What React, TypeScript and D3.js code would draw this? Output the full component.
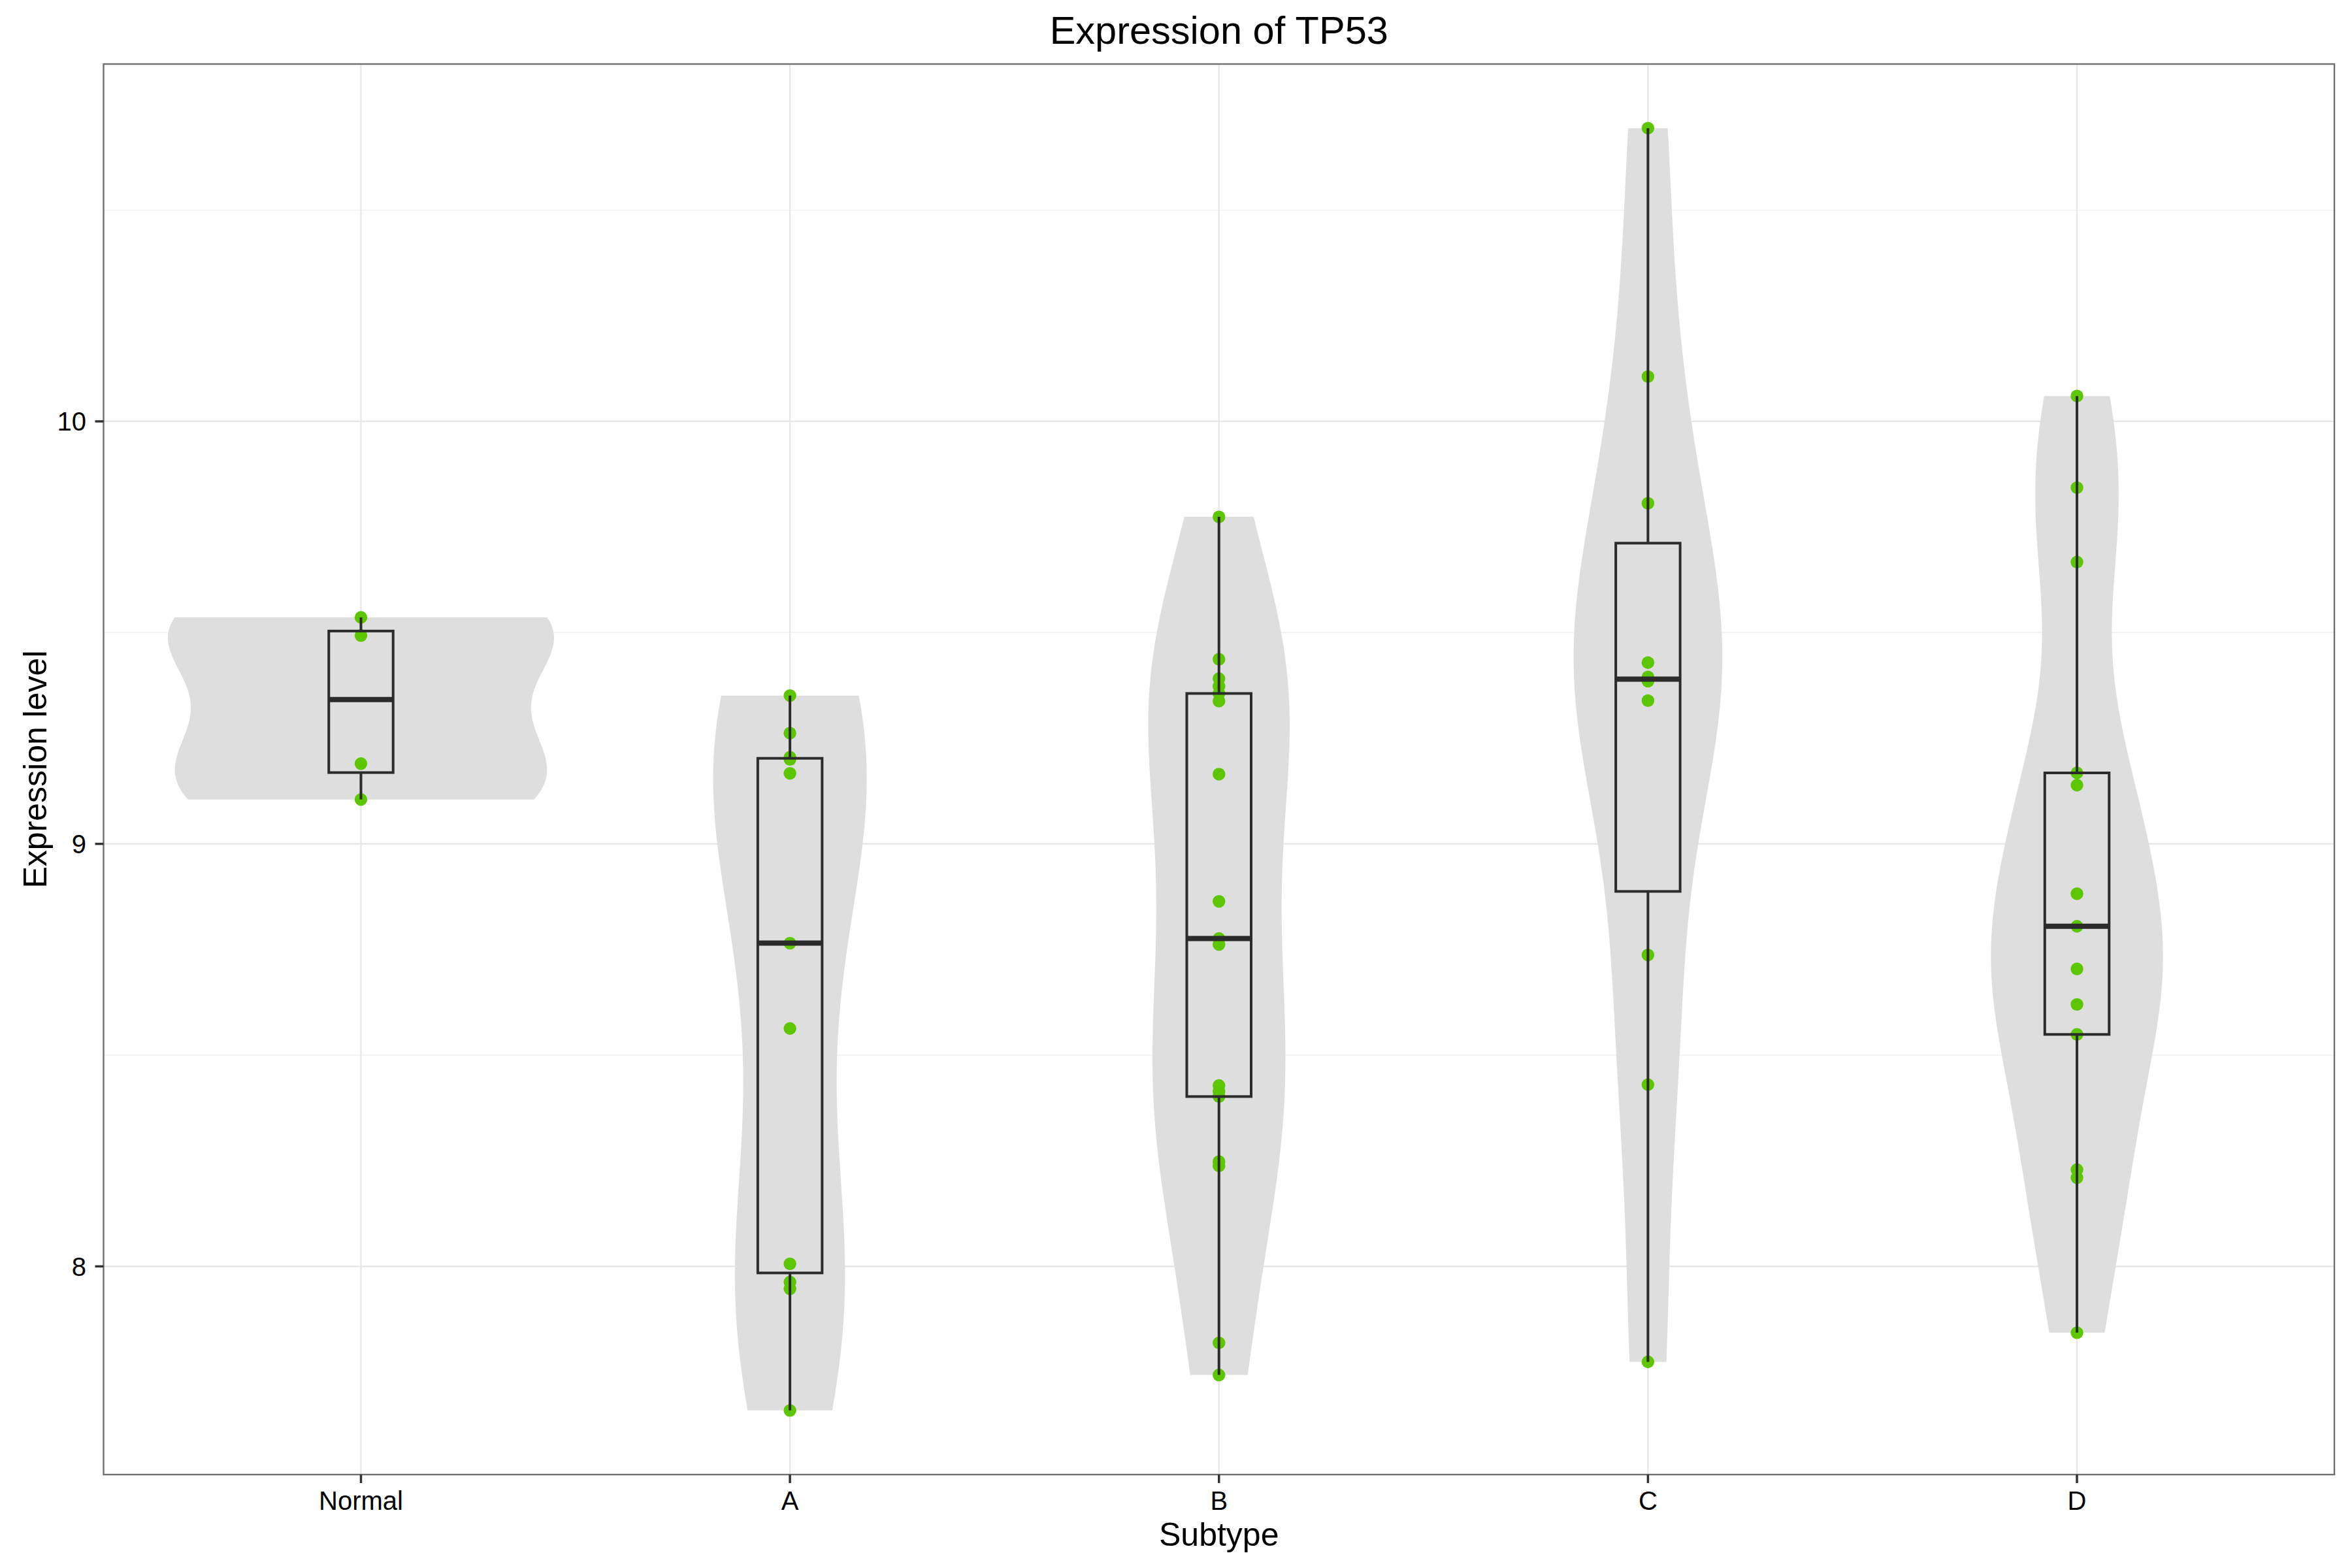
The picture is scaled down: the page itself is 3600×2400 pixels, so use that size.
import React from 'react';
import * as d3 from 'd3';

// ---- data ----
const categories = ['Normal', 'A', 'B', 'C', 'D'];
const normalValues = [9.536, 9.493, 9.19, 9.105];
const aValues = [9.351, 9.262, 9.205, 9.2, 9.167, 8.765, 8.563, 8.006, 7.963, 7.947, 7.659];
const bValues = [9.774, 9.437, 9.391, 9.373, 9.356, 9.338, 9.165, 8.864, 8.776, 8.762, 8.428, 8.414, 8.402, 8.248, 8.238, 7.819, 7.743];
const cValues = [10.694, 10.106, 9.806, 9.429, 9.395, 9.385, 9.339, 8.737, 8.43, 7.774];
const dValues = [10.06, 9.843, 9.667, 9.168, 9.139, 8.882, 8.805, 8.704, 8.62, 8.549, 8.229, 8.21, 7.843];
const groupValues = [normalValues, aValues, bValues, cValues, dValues];
const yMajorTicks = [8, 9, 10];
const yMinorTicks = [7.5, 8.5, 9.5, 10.5];
const titleText = 'Expression of TP53';
const xTitle = 'Subtype';
const yTitle = 'Expression level';

const FONT = '"Liberation Sans", Arial, Helvetica, sans-serif';

function bwNrd0(v: number[]) {
  const s = [...v].sort((a, b) => a - b);
  const sd = d3.deviation(s) as number;
  const iqr = (d3.quantileSorted(s, 0.75) as number) - (d3.quantileSorted(s, 0.25) as number);
  let lo = Math.min(sd, iqr / 1.34);
  if (!(lo > 0)) lo = sd || Math.abs(s[0]) || 1;
  return 0.9 * lo * Math.pow(s.length, -0.2);
}

function kde(v: number[], n = 512) {
  const bw = bwNrd0(v);
  const [mn, mx] = d3.extent(v) as [number, number];
  const out: { t: number; d: number }[] = [];
  for (let i = 0; i < n; i++) {
    const t = mn + ((mx - mn) * i) / (n - 1);
    let s = 0;
    for (const xi of v) {
      const z = (t - xi) / bw;
      s += Math.exp(-0.5 * z * z);
    }
    out.push({ t, d: s / (v.length * bw * Math.sqrt(2 * Math.PI)) });
  }
  return out;
}

function boxStats(v: number[]) {
  const s = [...v].sort((a, b) => a - b);
  const q1 = d3.quantileSorted(s, 0.25) as number;
  const med = d3.quantileSorted(s, 0.5) as number;
  const q3 = d3.quantileSorted(s, 0.75) as number;
  const iqr = q3 - q1;
  const lo = d3.min(s.filter((d) => d >= q1 - 1.5 * iqr)) as number;
  const hi = d3.max(s.filter((d) => d <= q3 + 1.5 * iqr)) as number;
  return { q1, med, q3, lo, hi };
}

export default function App() {
  const W = 3600, H = 2400;
  const left = 158.5, right = 3573, top = 98, bottom = 2257;
  const all = groupValues.flat();
  const [mn, mx] = d3.extent(all) as [number, number];
  const pad = (mx - mn) * 0.05;
  const y = d3.scaleLinear().domain([mn - pad, mx + pad]).range([bottom, top]);
  const x = d3.scalePoint<string>().domain(categories).range([left, right]).padding(0.6);
  const step = x.step();

  const dens = groupValues.map((v) => kde(v));
  const maxD = d3.max(dens.flat(), (d) => d.d) as number;

  const violins = categories.map((c, i) => {
    const cx = x(c) as number;
    const area = d3
      .area<{ t: number; d: number }>()
      .y((d) => y(d.t))
      .x0((d) => cx - (d.d / maxD) * 0.45 * step)
      .x1((d) => cx + (d.d / maxD) * 0.45 * step);
    return area(dens[i]) as string;
  });

  const boxHalf = 0.075 * step;
  const [d0, d1] = y.domain();
  const minorTicks = yMinorTicks.filter((t) => t >= d0 && t <= d1);

  return (
    <svg width={W} height={H} style={{ position: 'absolute', left: 0, top: 0, display: 'block', background: '#fff' }} fontFamily={FONT}>
      <rect x={0} y={0} width={W} height={H} fill="#ffffff" />
      {/* grid */}
      {minorTicks.map((t) => (
        <line key={'mi' + t} x1={left} x2={right} y1={y(t)} y2={y(t)} stroke="#F0F0F0" strokeWidth={1.4} />
      ))}
      {yMajorTicks.map((t) => (
        <line key={'ma' + t} x1={left} x2={right} y1={y(t)} y2={y(t)} stroke="#E6E6E6" strokeWidth={2.2} />
      ))}
      {categories.map((c) => (
        <line key={'gx' + c} x1={x(c)} x2={x(c)} y1={top} y2={bottom} stroke="#E6E6E6" strokeWidth={2.2} />
      ))}
      {/* violins */}
      {violins.map((p, i) => (
        <path key={'v' + i} d={p} fill="#DEDEDE" stroke="none" />
      ))}
      {/* points */}
      {categories.map((c, i) =>
        groupValues[i].map((v, j) => (
          <circle key={'p' + i + '-' + j} cx={x(c)} cy={y(v)} r={9.7} fill="#5CC700" />
        ))
      )}
      {/* boxplots */}
      {categories.map((c, i) => {
        const s = boxStats(groupValues[i]);
        const cx = x(c) as number;
        return (
          <g key={'b' + i} stroke="#2B2B2B" fill="none">
            <line x1={cx} x2={cx} y1={y(s.q3)} y2={y(s.hi)} strokeWidth={4} />
            <line x1={cx} x2={cx} y1={y(s.q1)} y2={y(s.lo)} strokeWidth={4} />
            <rect x={cx - boxHalf} y={y(s.q3)} width={2 * boxHalf} height={y(s.q1) - y(s.q3)} strokeWidth={4} />
            <line x1={cx - boxHalf} x2={cx + boxHalf} y1={y(s.med)} y2={y(s.med)} strokeWidth={8} />
          </g>
        );
      })}
      {/* panel border */}
      <rect x={left} y={top} width={right - left} height={bottom - top} fill="none" stroke="#707070" strokeWidth={2.4} />
      {/* y axis */}
      {yMajorTicks.map((t) => (
        <g key={'yt' + t}>
          <line x1={left - 13} x2={left} y1={y(t)} y2={y(t)} stroke="#333" strokeWidth={3.5} />
          <text x={132} y={y(t) + 14.3} textAnchor="end" fontSize={40} fill="#000">
            {t}
          </text>
        </g>
      ))}
      {/* x axis */}
      {categories.map((c) => (
        <g key={'xt' + c}>
          <line x1={x(c)} x2={x(c)} y1={bottom} y2={bottom + 13} stroke="#333" strokeWidth={3.5} />
          <text x={x(c)} y={2311} textAnchor="middle" fontSize={40} fill="#000">
            {c}
          </text>
        </g>
      ))}
      <text x={(left + right) / 2} y={2366} textAnchor="middle" fontSize={50} fill="#000">
        {xTitle}
      </text>
      <text transform={`translate(71, ${(top + bottom) / 2}) rotate(-90)`} textAnchor="middle" fontSize={50} fill="#000">
        {yTitle}
      </text>
      <text x={(left + right) / 2} y={67} textAnchor="middle" fontSize={59.5} fill="#000">
        {titleText}
      </text>
    </svg>
  );
}
